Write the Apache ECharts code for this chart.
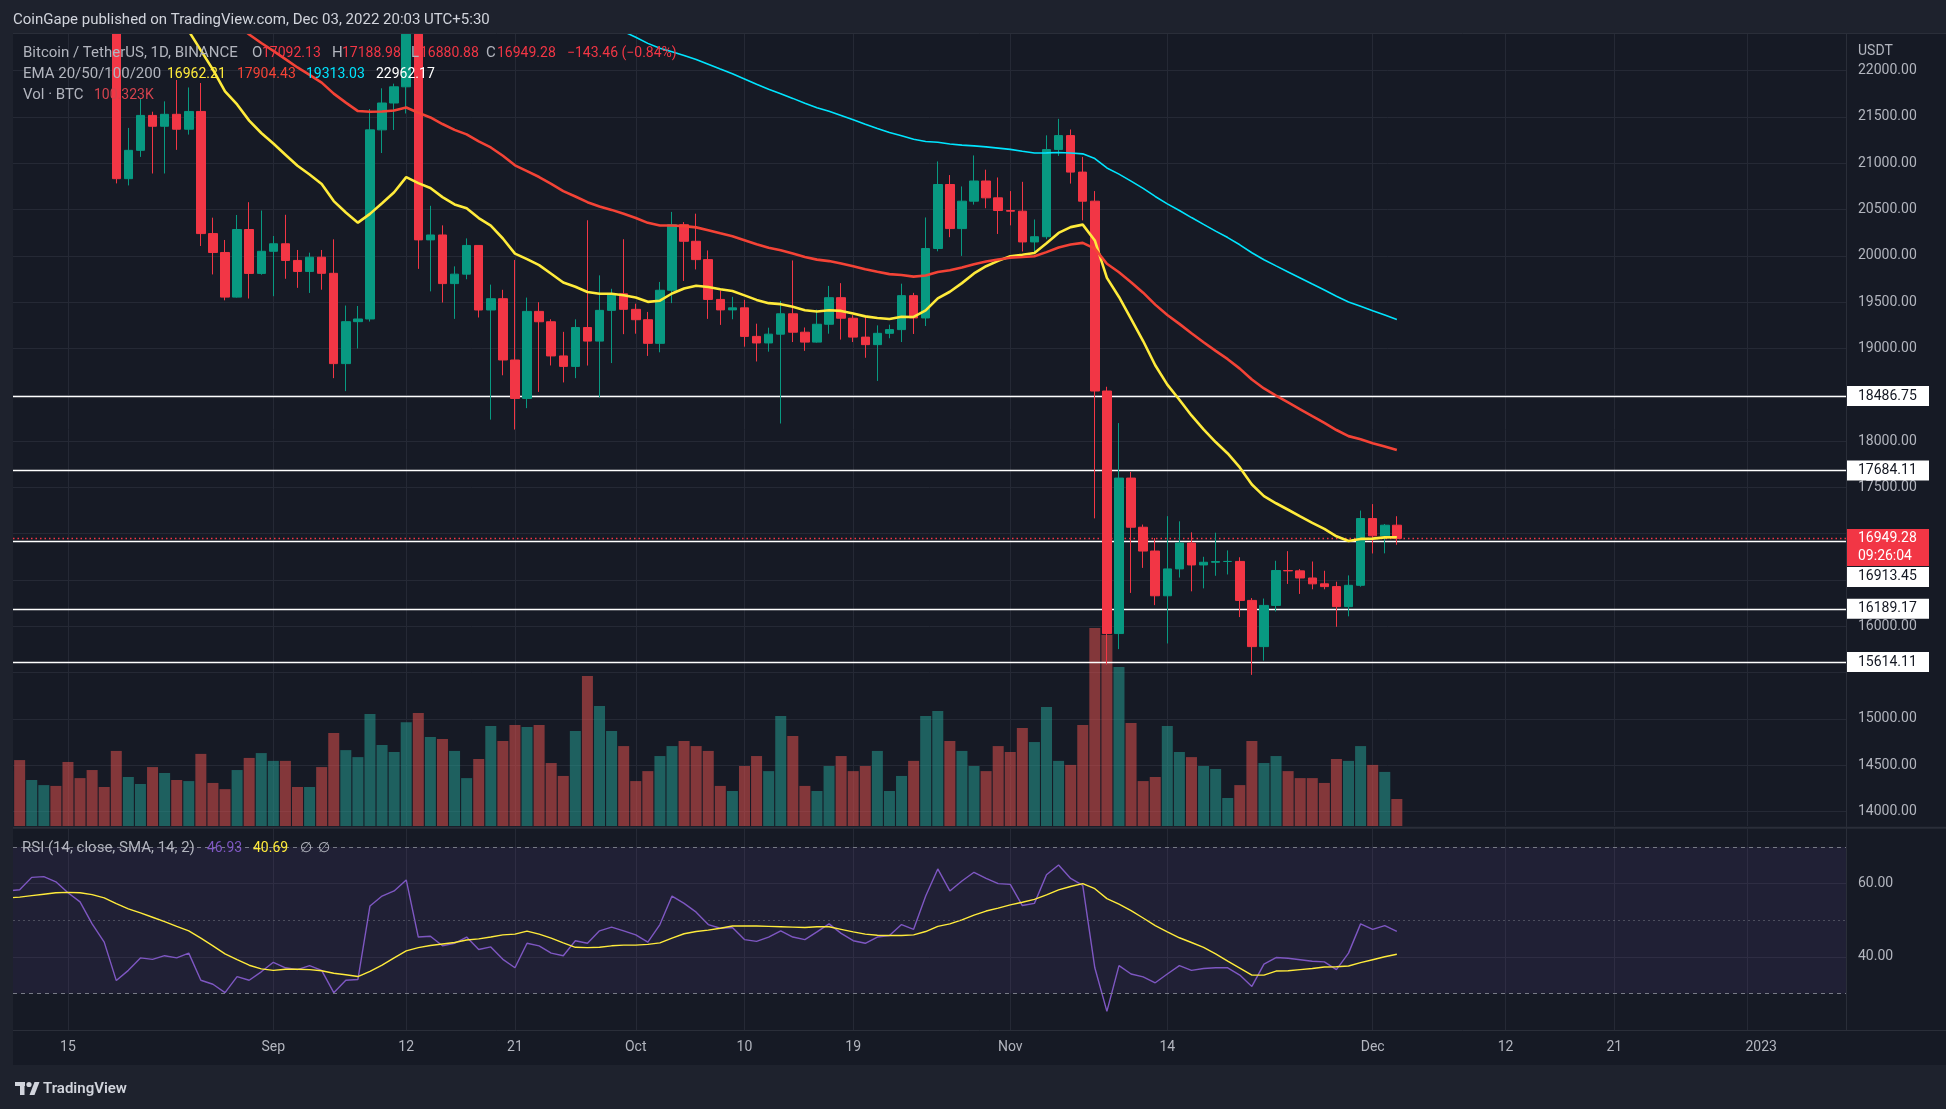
<!DOCTYPE html>
<html><head><meta charset="utf-8">
<script src="https://cdn.jsdelivr.net/npm/echarts@6/dist/echarts.min.js"></script>
<style>html,body{margin:0;padding:0;background:#161a25;}#c{width:1946px;height:1109px;}</style>
</head><body><div id="c"></div>
<script>
// Daily candles BTC/USDT, index 0 = 2022-08-10 ... index 115 = 2022-12-03
const open = [23151,23954,23934,24403,24442,24305,24094,23854,23342,23191,
 20834,21140,21517,21400,21529,21368,21560,20241,20037,19555,
 20285,19811,20050,20131,19951,19832,19986,19812,18837,19290,
 19319,21361,21651,21826,22395,20173,20226,19701,19803,20113,
 19416,19538,18876,18461,19401,19289,18920,18807,19227,19080,
 19412,19591,19423,19311,19056,19629,20337,20158,19960,19530,
 19417,19439,19131,19060,19155,19375,19176,19069,19262,19549,
 19327,19123,19042,19164,19204,19571,19330,20080,20771,20295,
 20591,20809,20627,20490,20483,20151,20207,21148,21299,20905,
 20591,18541,15922,17601,17070,16813,16330,16620,16900,16663,
 16692,16700,16701,16280,15781,16226,16603,16599,16522,16459,
 16429,16213,16443,17164,16977,17092.13];
const high = [24226,24918,24456,24888,25047,25211,24247,24446,23600,23208,
 21382,21694,21557,21669,21900,21819,21867,20413,20172,20442,
 20580,20490,20215,20444,20064,20035,20064,20179,19464,19459,
 21586,21810,21860,22488,22799,20541,20330,19887,20189,20116,
 19690,19634,19956,19550,19500,19316,19180,19315,20385,19790,
 19645,20180,19484,19395,19719,20475,20365,20456,20059,19627,
 19558,19525,19268,19225,19513,19951,19227,19420,19676,19706,
 19360,19347,19250,19257,19700,19601,20415,21020,20873,20750,
 21085,20931,20847,20700,20800,20393,21302,21480,21365,21069,
 20700,18587,18195,17667,17099,16954,17190,17134,17015,16751,
 17011,16820,16746,16305,16300,16708,16812,16618,16700,16600,
 16482,16550,17250,17320,17105,17188.98];
const low = [22664,23852,23600,24296,24100,23773,23671,23180,23111,20783,
 20761,21069,20890,20890,21145,21310,20107,19800,19520,19550,
 19540,19797,19565,19753,19655,19600,19635,18680,18540,19000,
 19291,21111,21360,21538,19860,19617,19497,19320,19748,19335,
 18232,18711,18125,18356,18531,18817,18634,18680,18816,18471,
 18843,19155,19160,18920,18959,19490,19730,19854,19320,19255,
 19316,19020,18860,18966,18190,19070,18975,19063,19160,19096,
 19070,18900,18650,19111,19070,19157,19243,20050,20202,20000,
 20554,20515,20237,20330,20048,20031,20180,21080,20781,20384,
 17166,15588,15754,16361,16631,16229,15815,16527,16378,16410,
 16546,16560,16100,15476,15630,16160,16458,16350,16400,16400,
 15995,16108,16428,16787,16788,16880.88];
const close = [23954,23934,24403,24442,24305,24094,23854,23342,23191,20834,
 21140,21517,21400,21529,21368,21560,20241,20037,19555,20285,
 19811,20050,20131,19951,19832,19986,19812,18837,19290,19319,
 21361,21651,21826,22395,20173,20226,19701,19803,20113,19416,
 19538,18876,18461,19401,19289,18920,18807,19227,19080,19412,
 19591,19423,19311,19056,19629,20337,20158,19960,19530,19417,
 19439,19131,19060,19155,19375,19176,19069,19262,19549,19327,
 19123,19042,19164,19204,19571,19330,20080,20771,20295,20591,
 20809,20627,20490,20483,20151,20207,21148,21299,20905,20591,
 18541,15922,17601,17070,16813,16330,16620,16900,16663,16692,
 16700,16701,16280,15781,16226,16603,16599,16522,16459,16429,
 16213,16443,17164,16977,17092,16949.28];
// Volume in thousand BTC
const volumeK = [204,245,171,152,149,238,178,208,145,279,
 182,156,219,197,171,167,268,160,137,208,
 253,271,242,242,145,145,219,346,282,256,
 416,301,275,386,420,331,323,279,178,249,
 372,316,375,368,375,234,186,353,557,446,
 353,297,167,204,260,297,316,297,279,149,
 130,223,260,204,409,334,149,130,223,260,
 204,223,279,130,186,242,409,427,316,279,
 223,204,297,275,364,312,442,242,227,375,
 736,710,591,383,167,182,372,275,256,223,
 212,104,152,316,234,260,204,178,178,160,
 249,242,297,227,201,100.323];
const ema20 = [23053,23137,23258,23371,23460,23520,23552,23532,23499,23245,
 23044,22899,22756,22639,22518,22427,22219,22011,21777,21635,
 21461,21327,21213,21093,20973,20879,20777,20592,20468,20359,
 20454,20568,20688,20851,20786,20733,20635,20556,20514,20409,
 20326,20188,20024,19965,19901,19808,19713,19667,19611,19592,
 19592,19576,19551,19504,19516,19594,19648,19678,19664,19640,
 19621,19574,19525,19490,19479,19450,19414,19400,19414,19406,
 19379,19347,19330,19318,19342,19341,19411,19541,19613,19706,
 19811,19889,19946,19997,20012,20031,20137,20248,20311,20338,
 20167,19763,19557,19320,19081,18819,18610,18447,18277,18126,
 17990,17867,17716,17531,17406,17329,17259,17188,17118,17052,
 16972,16921,16944,16947,16961,16962.21];
const ema50 = [23251,23278,23322,23366,23403,23430,23447,23443,23433,23331,
 23245,23177,23107,23046,22980,22924,22819,22710,22586,22496,
 22391,22299,22214,22125,22035,21955,21871,21752,21655,21564,
 21556,21560,21570,21602,21546,21495,21424,21361,21312,21237,
 21171,21081,20978,20916,20852,20777,20699,20642,20580,20534,
 20497,20455,20410,20357,20329,20329,20322,20308,20278,20244,
 20212,20170,20127,20088,20060,20026,19988,19960,19944,19919,
 19888,19855,19828,19803,19794,19776,19788,19827,19845,19874,
 19911,19939,19961,19981,19988,19996,20041,20091,20123,20141,
 20078,19915,19824,19716,19603,19474,19362,19266,19164,19067,
 18974,18885,18783,18665,18569,18492,18418,18344,18270,18197,
 18120,18054,18019,17978,17943,17904.43];
const ema100 = [null,null,null,null,null,null,null,null,null,null,
 null,null,null,null,null,null,null,null,null,null,null,null,
 24548,24457,24365,24278,24190,24084,23989,23896,23846,23803,23764,23737,23666,23598,23521,23447,23381,23303,23228,23142,
 23049,22977,22904,22825,22746,22676,22605,22541,22483,22422,
 22361,22295,22243,22205,22164,22121,22069,22017,21966,21910,21853,21800,21752,21701,21649,21601,21561,21516,21469,21421,
 21376,21333,21298,21259,21236,21227,21208,21196,21188,21177,21164,
 21150,21130,21112,21113,21117,21112,21102,21051,20950,20883,20808,20729,20642,20562,20490,20414,20340,20268,20198,20120,
 20034,19959,19892,19827,19762,19696,19632,19564,19502,19456,
 19407,19361,19313.03];
const rsi = [58,58.3,61.7,61.9,60.5,57.5,55,49,44,33.5,
 36.3,39.7,39.3,40.3,39.7,41,33.6,32.5,30.2,34.6,
 33.6,35.9,38.5,37,36.5,37.6,36.3,30.2,33.6,33.8,
 53.9,56.6,58,61,45.4,45.6,43,43.7,45.4,42,
 42.7,39.3,37,43.7,43,41,40.3,44.4,43.7,47.1,
 48.1,47.1,46,44,48.8,56.6,54.6,52.2,48.8,47.8,
 48,44.7,44.2,45.4,47.1,45.4,44.7,46.8,49,46.4,
 44.4,43.7,45.4,45.8,48.8,47.5,56.6,64,58,60.7,
 63.1,61.4,60,59.8,54,54.6,62.4,65.1,61.4,59.5,
 37,25.1,37.6,35.3,34.5,32.9,35.3,37.6,36.3,36.8,
 37,37,35,31.9,38,39.8,39.6,39.2,38.8,38.6,
 36.5,41,49,47.5,48.5,46.93];
const rsiSma = [56.1,56.3,56.7,57.1,57.5,57.6,57.5,57.0,56.1,54.5,
 53.1,52.0,50.8,49.6,48.3,47.1,45.1,43.0,40.8,39.2,
 37.7,36.7,36.3,36.6,36.6,36.5,36.2,35.5,35.1,34.6,
 36.0,37.7,39.7,41.6,42.5,43.1,43.5,43.9,44.6,44.9,
 45.4,46.0,46.2,47.0,46.2,45.1,43.8,42.6,42.5,42.6,
 43.0,43.2,43.2,43.4,43.8,45.1,46.3,46.9,47.3,47.8,
 48.4,48.4,48.4,48.3,48.2,48.1,48.0,48.2,48.2,47.5,
 46.8,46.2,45.9,45.8,45.8,46.0,46.9,48.3,49.0,50.1,
 51.4,52.5,53.3,54.2,54.9,55.7,56.9,58.3,59.2,60.0,
 58.6,55.9,54.4,52.6,50.6,48.5,46.8,45.2,43.9,42.6,
 40.8,38.8,36.9,35.0,35.0,36.1,36.2,36.5,36.8,37.2,
 37.3,37.5,38.4,39.2,40.0,40.69];
const priceTicks = [14000,14500,15000,15500,16000,16500,17000,17500,18000,18500,19000,19500,20000,20500,21000,21500,22000];
const rsiTicks = [40,60];
const timeTickDays = [5,22,33,42,52,61,70,83,96,113,124,133,144];
const timeTickLabels = ['15','Sep','12','21','Oct','10','19','Nov','14','Dec','12','21','2023'];
const levels = [18486.75,17684.11,16913.45,16189.17,15614.11];
const lastPrice = 16949.28;
const countdown = '09:26:04';

const UP='#089981', DOWN='#f23645', VUP='rgba(38,166,154,0.5)', VDOWN='rgba(239,83,80,0.5)';
const GRID='#252935', BORDER='#2a2e39', FRAME='#1e222d', AX='#b2b5be';
const FONT='Roboto, "Noto Sans", "DejaVu Sans", sans-serif';
const f = (s,w)=> (w?w+' ':'')+s+'px '+FONT;

const chart = echarts.init(document.getElementById('c'), null, {width:1946, height:1109});
const XMIN=0.45, XMAX=152.18;
const xy = arr => arr.map((v,i)=>[i,v]).filter(d=>d[1]!=null);

// legend segments: [x, text, colour, size]
const legendRows = [
  {y:53.5, segs:[[23,'Bitcoin / TetherUS, 1D, BINANCE',AX,15],[252,'O',AX,15],[262,'17092.13',DOWN,14],[332,'H',AX,15],[342,'17188.98',DOWN,14],[411,'L',AX,15],[420,'16880.88',DOWN,14],[486,'C',AX,15],[497,'16949.28',DOWN,14],[567,'−143.46 (−0.84%)',DOWN,14]]},
  {y:74.5, segs:[[23,'EMA 20/50/100/200',AX,15],[167,'16962.21','#ffeb3b',14],[237,'17904.43','#f44336',14],[306,'19313.03','#00e5ff',14],[376,'22962.17','#ffffff',14]]},
  {y:95.7, segs:[[23,'Vol · BTC',AX,15],[94,'100.323K','#d4434e',14]]},
  {y:848, segs:[[22,'RSI (14, close, SMA, 14, 2)',AX,15],[207,'46.93','#7e57c2',14],[253,'40.69','#ffeb3b',14],[300,'∅',AX,14],[318,'∅',AX,14]]}
];
const legendEls = [];
legendRows.forEach((r,ri)=>r.segs.forEach((s,si)=>legendEls.push({type:'text', id:'lg'+ri+'_'+si, z:100, x:s[0], y:r.y,
  style:{text:s[1], fill:s[2], font:f(s[3]), verticalAlign:'middle'}})));

const timeFmt = v => {
  const t = timeTickLabels[timeTickDays.indexOf(v)];
  return /^\d{4}$/.test(t) ? '{yr|' + t + '}' : t;
};

const option = {
  backgroundColor:'#161a25',
  animation:false,
  textStyle:{fontFamily:FONT},
  grid:[{left:13, top:33, width:1833, height:793},{left:13, top:828.7, width:1833, height:201.3}],
  xAxis:[
    {type:'value', gridIndex:0, min:XMIN, max:XMAX, axisLine:{show:false}, axisTick:{show:false, customValues:timeTickDays}, axisLabel:{show:false}, splitLine:{show:true, lineStyle:{color:GRID, width:1}}},
    {type:'value', gridIndex:1, min:XMIN, max:XMAX, axisLine:{show:false}, axisTick:{show:false, customValues:timeTickDays},
     axisLabel:{show:true, customValues:timeTickDays, formatter:timeFmt, color:AX, fontSize:14, margin:10, fontFamily:FONT,
       rich:{yr:{color:AX, fontSize:14, fontFamily:FONT, padding:[0,0,0,28]}}},
     splitLine:{show:true, lineStyle:{color:GRID, width:1}}}
  ],
  yAxis:[
    {type:'value', gridIndex:0, position:'right', min:13844, max:22407, axisLine:{show:false}, axisTick:{show:false, customValues:priceTicks},
     axisLabel:{customValues:priceTicks, formatter:v=>v.toFixed(2), color:AX, fontSize:14, margin:12, fontFamily:FONT}, splitLine:{show:true, lineStyle:{color:GRID}}},
    {type:'value', gridIndex:0, min:0, max:2947, show:false, splitLine:{show:false}},
    {type:'value', gridIndex:1, position:'right', min:20, max:75, axisLine:{show:false}, axisTick:{show:false, customValues:rsiTicks},
     axisLabel:{customValues:rsiTicks, formatter:v=>v.toFixed(2), color:AX, fontSize:14, margin:12, fontFamily:FONT}, splitLine:{show:true, lineStyle:{color:GRID}}}
  ],
  series:[
    {name:'Vol', type:'bar', xAxisIndex:0, yAxisIndex:1, barWidth:11, z:1, clip:true,
     data: volumeK.map((v,i)=>({value:[i,v], itemStyle:{color: close[i]>=open[i]?VUP:VDOWN}}))},
    {name:'BTCUSDT', type:'candlestick', xAxisIndex:0, yAxisIndex:0, z:3, barWidth:9, clip:true,
     data: close.map((c,i)=>[i, open[i], c, low[i], high[i]]),
     itemStyle:{color:UP, color0:DOWN, borderColor:UP, borderColor0:DOWN, borderWidth:1},
     markLine:{z:2, silent:true, symbol:'none', label:{show:false}, animation:false,
       data:[...levels.map(l=>({yAxis:l, lineStyle:{color:'#ffffff', width:1.4, type:'solid'}})),
             {yAxis:lastPrice, lineStyle:{color:DOWN, width:1.3, type:[1.5,3]}}]}},
    {name:'EMA20', type:'line', xAxisIndex:0, yAxisIndex:0, z:4, symbol:'none', data:xy(ema20), lineStyle:{color:'#ffeb3b', width:2.6}},
    {name:'EMA50', type:'line', xAxisIndex:0, yAxisIndex:0, z:4, symbol:'none', data:xy(ema50), lineStyle:{color:'#f44336', width:2.6}},
    {name:'EMA100', type:'line', xAxisIndex:0, yAxisIndex:0, z:4, symbol:'none', data:xy(ema100), lineStyle:{color:'#00e5ff', width:1.6}},
    {name:'RSI', type:'line', xAxisIndex:1, yAxisIndex:2, z:4, symbol:'none', data:xy(rsi), lineStyle:{color:'#7e57c2', width:1.4},
     markArea:{silent:true, itemStyle:{color:'rgba(126,87,194,0.1)'}, data:[[{yAxis:30},{yAxis:70}]]},
     markLine:{silent:true, symbol:'none', label:{show:false}, animation:false,
       lineStyle:{color:'#787b86', type:[4,4], width:1},
       data:[{yAxis:70},{yAxis:30},{yAxis:50, lineStyle:{color:'rgba(120,123,134,0.5)', type:[2,3], width:1}}]}},
    {name:'RSI SMA', type:'line', xAxisIndex:1, yAxisIndex:2, z:4, symbol:'none', data:xy(rsiSma), lineStyle:{color:'#ffeb3b', width:1.4}}
  ],
  graphic:[
    {type:'rect', id:'frTop', silent:true, z:50, shape:{x:0,y:0,width:1946,height:33}, style:{fill:FRAME}},
    {type:'rect', id:'frLeft', silent:true, z:50, shape:{x:0,y:0,width:13,height:1109}, style:{fill:FRAME}},
    {type:'rect', id:'frFoot', silent:true, z:50, shape:{x:0,y:1065,width:1946,height:44}, style:{fill:FRAME}},
    {type:'line', id:'bV', silent:true, z:51, shape:{x1:1846.5,y1:33,x2:1846.5,y2:1030}, style:{stroke:BORDER, lineWidth:1}},
    {type:'line', id:'bH1', silent:true, z:51, shape:{x1:13,y1:827.7,x2:1946,y2:827.7}, style:{stroke:BORDER, lineWidth:2}},
    {type:'line', id:'bH2', silent:true, z:51, shape:{x1:13,y1:1030.5,x2:1946,y2:1030.5}, style:{stroke:BORDER, lineWidth:1}},
    {type:'line', id:'bT', silent:true, z:51, shape:{x1:13,y1:33.5,x2:1946,y2:33.5}, style:{stroke:BORDER, lineWidth:1}},
    {type:'text', id:'pub', z:100, x:13, y:20, style:{text:'CoinGape published on TradingView.com, Dec 03, 2022 20:03 UTC+5:30', fill:'#d1d4dc', font:f(15), verticalAlign:'middle'}},
    ...legendEls,
    {type:'text', id:'usdt', z:100, x:1858, y:51, style:{text:'USDT', fill:AX, font:f(14), verticalAlign:'middle'}},
    {type:'rect', id:'lgA', z:100, shape:{x:15,y:1082,width:10,height:4}, style:{fill:'#d1d4dc'}},
    {type:'rect', id:'lgB', z:100, shape:{x:20,y:1082,width:4.5,height:13}, style:{fill:'#d1d4dc'}},
    {type:'circle', id:'lgC', z:100, shape:{cx:29,cy:1084.5,r:2.6}, style:{fill:'#d1d4dc'}},
    {type:'polygon', id:'lgD', z:100, shape:{points:[[29.5,1095],[34.5,1082],[39.5,1082],[34.5,1095]]}, style:{fill:'#d1d4dc'}},
    {type:'text', id:'tvName', z:100, x:43, y:1089, style:{text:'TradingView', fill:'#d1d4dc', font:f(15,'600'), verticalAlign:'middle'}}
  ]
};
chart.setOption(option);

// Price-scale marker boxes, placed through the axis scale and pushed apart like TradingView does;
// tick labels whose centre falls inside a marker box are hidden.
(function(){
  const yOf = p => chart.convertToPixel({yAxisIndex:0}, p);
  const out = [];
  const placed = [];
  const yl = yOf(lastPrice);
  placed.push({top:yl-9.5, bottom:yl+27.5});
  out.push({type:'rect', id:'lpBox', z:80, shape:{x:1847, y:yl-9.5, width:82, height:37}, style:{fill:DOWN}});
  out.push({type:'text', id:'lpT1', z:81, x:1858, y:yl, style:{text:lastPrice.toFixed(2), fill:'#ffffff', font:f(14), verticalAlign:'middle'}});
  out.push({type:'text', id:'lpT2', z:81, x:1858, y:yl+18, style:{text:countdown, fill:'#ffffff', font:f(14), verticalAlign:'middle'}});
  levels.map(l=>({l, y:yOf(l)})).sort((a,b)=>a.y-b.y).forEach((o,k)=>{
    let top = o.y-10;
    placed.forEach(p=>{ if (top < p.bottom && top+20 > p.top) top = p.bottom+1; });
    placed.push({top, bottom:top+20});
    out.push({type:'rect', id:'lvB'+k, z:80, shape:{x:1847, y:top, width:82, height:20}, style:{fill:'#ffffff'}});
    out.push({type:'text', id:'lvT'+k, z:81, x:1858, y:top+10, style:{text:o.l.toFixed(2), fill:'#131722', font:f(14), verticalAlign:'middle'}});
  });
  const shownTicks = priceTicks.filter(t=>{ const y = yOf(t); return !placed.some(p=> y >= p.top-1 && y <= p.bottom+1); });
  chart.setOption({graphic: out, yAxis:[{axisLabel:{customValues: shownTicks}}]});
})();
</script></body></html>
